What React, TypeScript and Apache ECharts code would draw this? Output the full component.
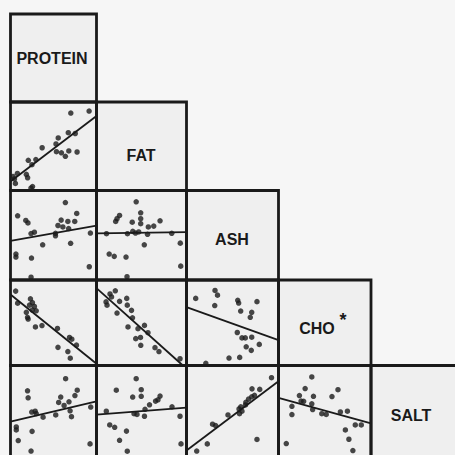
import React, { useEffect, useRef } from "react";
import * as echarts from "echarts";

const variables = ["PROTEIN", "FAT", "ASH", "CHO", "SALT"];

// Each panel: [x, y] in percent of that variable's plotted range
const fatVsProtein = [
  [70.1, 87.5], [91.4, 89.8], [67.2, 65.3], [75.3, 64.4], [55.5, 59.4], [36.8, 48.3],
  [52.9, 52.6], [53.4, 43.8], [59.2, 42.6], [63.8, 38.6], [67.8, 44.7], [77.4, 43.5],
  [20.7, 34.1], [29.5, 34.9], [24.9, 29.2], [8, 19.3], [18.4, 18.2], [4.6, 13.1],
  [5.7, 8], [19.9, 14.4], [25.6, 4.5], [23.8, 2.8], [2.9, 15.9],
];
const fatVsProteinFit = [[0, 10.2], [100, 84.1]];

const ashVsProtein = [
  [63.8, 86.5], [8.3, 71.7], [17.8, 66.5], [20.3, 63.7], [77, 74.4], [58.9, 66.9],
  [66.7, 65.4], [74.7, 65.4], [55.2, 60.9], [60.9, 59.3], [67.6, 57.5], [52.3, 52.2],
  [52.3, 49.4], [27.8, 53.4], [23.9, 51.9], [92.9, 52.5], [37.4, 39.3], [69.9, 41],
  [6.3, 29], [6.3, 25.6], [24.4, 24.5], [91.6, 14.8], [23.9, 3.1],
];
const ashVsProteinFit = [[0, 43.8], [100, 60.7]];

const ashVsFat = [
  [44.1, 87.4], [25.6, 72.1], [22.8, 68.5], [21.3, 65.4], [49.1, 75.1], [49.1, 68.5],
  [39.7, 64.6], [49.1, 62.9], [57.6, 59.3], [63.6, 60.2], [70.6, 66.1], [11.1, 51.7],
  [34.4, 51.7], [40.3, 54.3], [43.3, 52.5], [46.9, 53.7], [56.7, 51.1], [83.6, 52.2],
  [53.1, 39.3], [93.1, 41.2], [14.1, 29], [19.7, 26.4], [32.8, 25.6], [93.6, 15.5],
  [33.9, 3.7],
];
const ashVsFatFit = [[0, 52.2], [100, 53.4]];

const choVsProtein = [
  [6, 87], [8.3, 72.9], [23.2, 77.9], [25.5, 73.5], [22.1, 70.6], [27.8, 69],
  [25.3, 64.8], [29.9, 64], [18.4, 62.2], [19.8, 56.4], [20.5, 54.3], [29, 45.1],
  [36.6, 46.7], [54.6, 43.3], [68.6, 32.8], [71.3, 30.8], [76.7, 23.8], [55.2, 21.2],
  [66.7, 16.3], [69.5, 8.5],
];
const choVsProteinFit = [[0, 83], [100, 2]];

const choVsFat = [
  [20.9, 87.4], [15, 83.7], [16.7, 80.2], [10.6, 74.4], [11.7, 70.6], [25.6, 75],
  [33.6, 78.5], [34.2, 70.6], [38.9, 64.5], [22.8, 61.3], [40, 55.8], [35, 45.1],
  [46.1, 43], [53.3, 46.9], [57.2, 38.4], [43.6, 31.4], [48.9, 32.8], [49.2, 23.6],
  [65, 20.9], [69.4, 16.3], [92.8, 7.9],
];
const choVsFatFit = [[0, 90.5], [96, 0]];

const choVsAsh = [
  [10, 78.5], [31, 87.8], [33.7, 82.3], [30.7, 70.1], [55.7, 76.2], [56.7, 73],
  [76.6, 74.7], [58.9, 63.7], [70.9, 62.2], [69.3, 56.4], [55.2, 38.6], [60.3, 32.3],
  [63.9, 32.3], [70.9, 33.1], [79.1, 24.7], [64.9, 21.9], [70.4, 17.7], [46.2, 8.7],
  [57.8, 9.5], [21, 2.6],
];
const choVsAshFit = [[0, 68.3], [100, 29.7]];

const saltVsProtein = [
  [64.1, 85.3], [19.8, 71.7], [20.5, 63.9], [77.6, 72.4], [74.9, 66.4], [58.4, 64.7],
  [56, 58.7], [62.3, 55.3], [68, 59.4], [69.3, 49.4], [70.9, 42.8], [24.7, 48],
  [28.7, 48.9], [29.9, 46.3], [37.9, 42.2], [52.6, 44.7], [93.3, 53.6], [6.7, 31.3],
  [6.7, 28], [25.1, 26.4], [9, 16.1], [92.5, 12.4], [23.9, 4.4],
];
const saltVsProteinFit = [[0, 37.2], [100, 60]];

const saltVsFat = [
  [44.1, 85.3], [22, 72.4], [49.7, 73], [49.7, 65.6], [40.2, 64.7], [70.6, 65.8],
  [65.6, 60.2], [68.3, 61.7], [58.9, 56.1], [53.9, 51.1], [10.9, 48.9], [41.7, 46.1],
  [45, 45.3], [53.3, 43.3], [83.9, 53.9], [92.8, 43.3], [14.7, 33.6], [20.2, 30.9],
  [33.3, 26.7], [25.6, 16.4], [93.9, 12.4], [34.2, 4.2],
];
const saltVsFatFit = [[0, 45.2], [100, 53]];

const saltVsAsh = [
  [92.4, 86.4], [71.2, 73.9], [79.6, 73.3], [73.9, 66.7], [70.9, 65], [67.4, 62.4],
  [64.5, 58.9], [64.1, 55.9], [59, 53.9], [57.1, 51.4], [60.3, 48.9], [57.6, 46.1],
  [45.1, 44.7], [31.7, 32.8], [28.3, 34.4], [22.6, 12.4], [11.1, 4.4], [76.6, 17.4],
];
const saltVsAshFit = [[0, 5], [100, 82.5]];

const saltVsCho = [
  [36, 87.2], [28.8, 74.2], [64.3, 73], [22.6, 66.4], [37.8, 65.6], [57.8, 65.3],
  [24.4, 60.3], [27.2, 60], [14.5, 54.4], [36, 57.2], [36.9, 50.8], [46.8, 46.1],
  [51.6, 45.3], [66.9, 48.1], [74.5, 48.9], [14.5, 45.2], [83, 33.6], [89.5, 33.6],
  [72.3, 28], [76.1, 17.6], [8.4, 12.8], [80.4, 5],
];
const saltVsChoFit = [[0, 63.7], [100, 35.3]];

const panels = [
  { row: 1, col: 0, points: fatVsProtein, fit: fatVsProteinFit },
  { row: 2, col: 0, points: ashVsProtein, fit: ashVsProteinFit },
  { row: 2, col: 1, points: ashVsFat, fit: ashVsFatFit },
  { row: 3, col: 0, points: choVsProtein, fit: choVsProteinFit },
  { row: 3, col: 1, points: choVsFat, fit: choVsFatFit },
  { row: 3, col: 2, points: choVsAsh, fit: choVsAshFit },
  { row: 4, col: 0, points: saltVsProtein, fit: saltVsProteinFit },
  { row: 4, col: 1, points: saltVsFat, fit: saltVsFatFit },
  { row: 4, col: 2, points: saltVsAsh, fit: saltVsAshFit },
  { row: 4, col: 3, points: saltVsCho, fit: saltVsChoFit },
];

// layout
const colEdges = [10.5, 96.5, 186.5, 278.5, 371, 464];
const rowEdges = [14, 102, 190.5, 280, 365.5, 460];
const labelPos = [
  [52, 58],
  [141, 155],
  [232, 239],
  [317, 328],
  [411, 415],
];
const INK = "#1a1a1a";

export default function App() {
  const ref = useRef<HTMLDivElement>(null);
  useEffect(() => {
    if (!ref.current) return;
    const chart = echarts.init(ref.current, null, { renderer: "svg" });
    const grids: any[] = [];
    const xAxes: any[] = [];
    const yAxes: any[] = [];
    const series: any[] = [];
    panels.forEach((p, i) => {
      grids.push({
        left: colEdges[p.col],
        top: rowEdges[p.row],
        width: colEdges[p.col + 1] - colEdges[p.col],
        height: rowEdges[p.row + 1] - rowEdges[p.row],
        show: false,
      });
      xAxes.push({ type: "value", gridIndex: i, min: 0, max: 100, show: false });
      yAxes.push({ type: "value", gridIndex: i, min: 0, max: 100, show: false });
      series.push({
        type: "scatter",
        xAxisIndex: i,
        yAxisIndex: i,
        data: p.points,
        symbolSize: 5.5,
        itemStyle: { color: INK },
        z: 3,
      });
      series.push({
        type: "line",
        xAxisIndex: i,
        yAxisIndex: i,
        data: p.fit,
        showSymbol: false,
        lineStyle: { color: INK, width: 1.8 },
        z: 2,
      });
    });
    const graphics: any[] = [];
    for (let r = 0; r < 5; r++) {
      for (let c = 0; c <= r; c++) {
        const shape = {
          x: colEdges[c],
          y: rowEdges[r],
          width: colEdges[c + 1] - colEdges[c],
          height: rowEdges[r + 1] - rowEdges[r],
        };
        graphics.push({ type: "rect", shape, style: { fill: "#efefef" }, z: -10 });
        graphics.push({
          type: "rect",
          shape,
          style: { fill: "transparent", stroke: INK, lineWidth: 2.8 },
          z: 100,
        });
      }
    }
    variables.forEach((v, i) => {
      graphics.push({
        type: "text",
        x: labelPos[i][0],
        y: labelPos[i][1],
        z: 101,
        style: {
          text: v,
          fill: INK,
          font: "bold 16px 'Liberation Sans', Arial, sans-serif",
          textAlign: "center",
          textVerticalAlign: "middle",
        },
      });
    });
    graphics.push({
      type: "text",
      x: 343,
      y: 320,
      z: 101,
      style: {
        text: "*",
        fill: INK,
        font: "bold 18px 'Liberation Sans', Arial, sans-serif",
        textAlign: "center",
        textVerticalAlign: "middle",
      },
    });
    chart.setOption({
      animation: false,
      backgroundColor: "#f6f6f6",
      grid: grids,
      xAxis: xAxes,
      yAxis: yAxes,
      series,
      graphic: graphics,
    });
    return () => chart.dispose();
  }, []);
  return (
    <div
      ref={ref}
      style={{ position: "fixed", left: 0, top: 0, width: 455, height: 455 }}
    />
  );
}
